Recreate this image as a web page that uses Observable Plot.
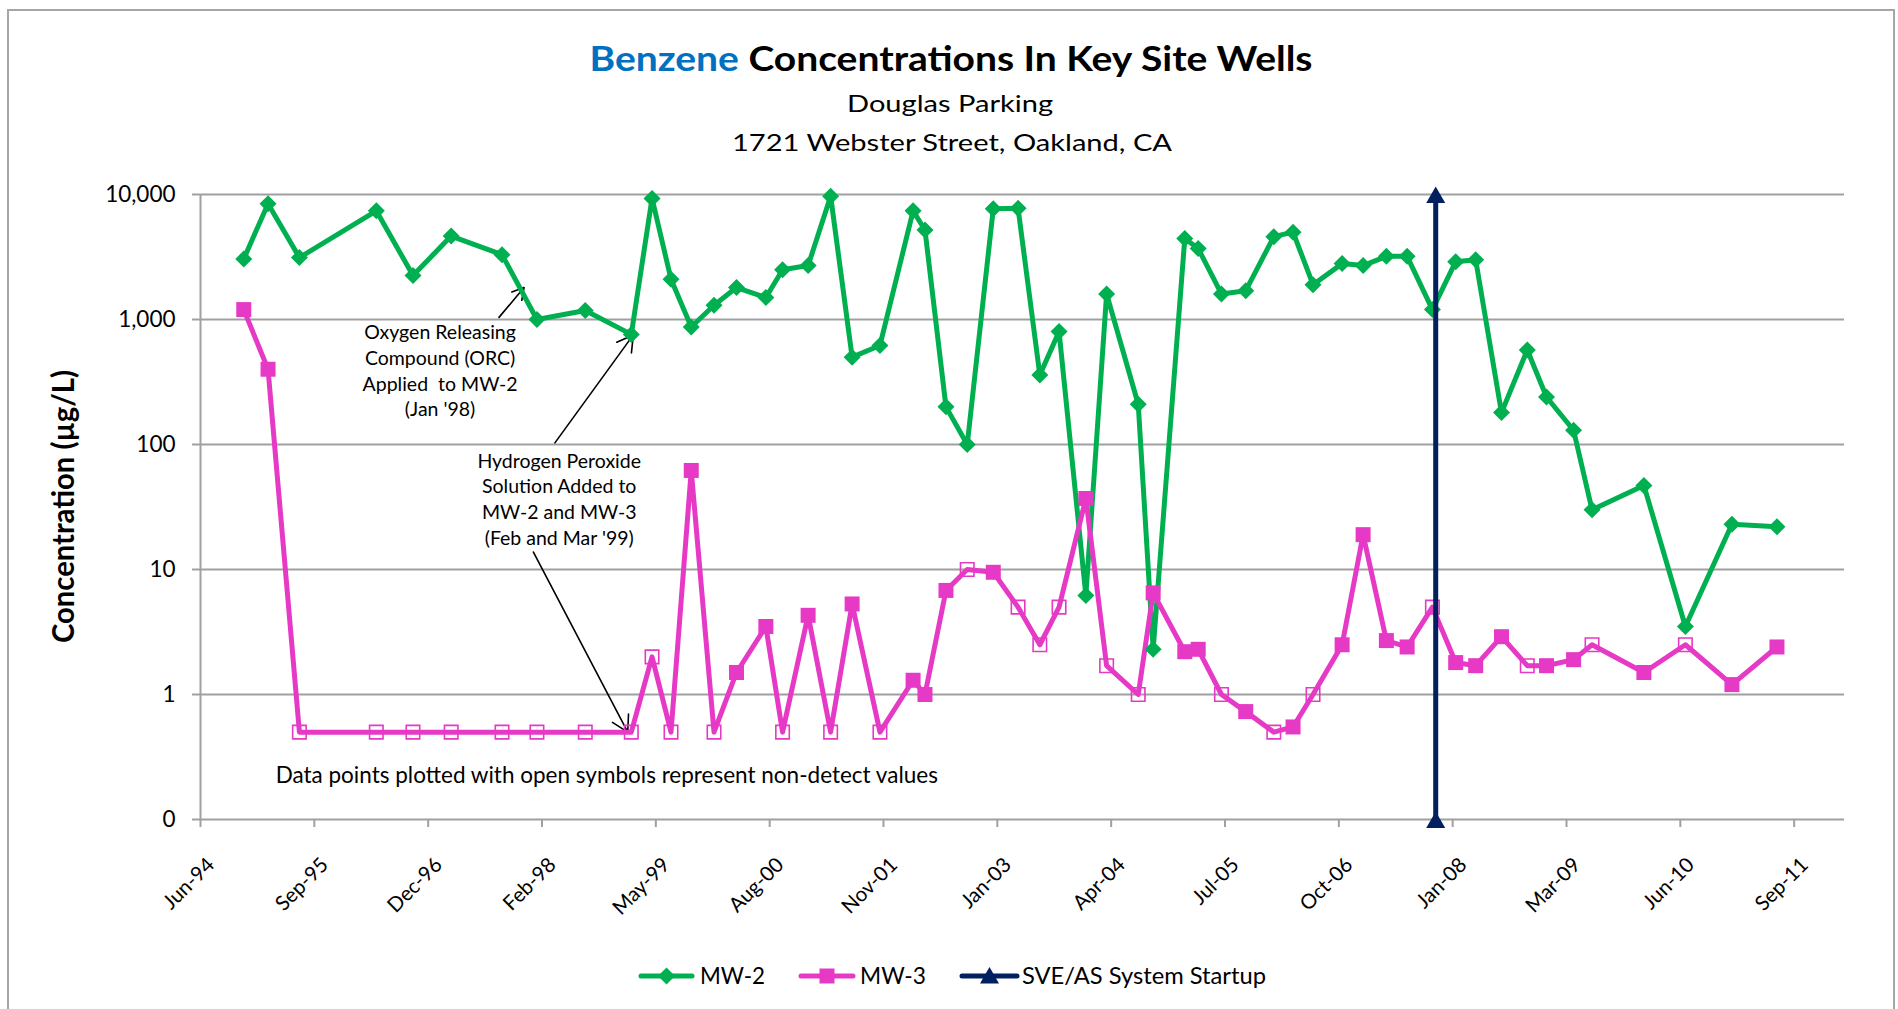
<!DOCTYPE html>
<html>
<head>
<meta charset="utf-8">
<script src="https://cdn.jsdelivr.net/npm/d3@7"></script>
<script src="https://cdn.jsdelivr.net/npm/@observablehq/plot@0.6"></script>
<style>
html,body{margin:0;padding:0;background:#fff;}
body{width:1898px;height:1009px;overflow:hidden;position:relative;font-family:Lato,"Open Sans",sans-serif;}
#frame{position:absolute;left:7px;top:9px;width:1888px;height:1100px;border:2px solid #a6a6a6;box-sizing:border-box;}
#chart{position:absolute;left:0;top:150px;}
#overlay{position:absolute;left:0;top:0;}
</style>
</head>
<body>
<div id="frame"></div>
<div id="chart"></div>
<svg id="overlay" width="1898" height="1009"></svg>
<script>
// ---------- texts ----------
const titleWord = "Benzene";
const titleRest = " Concentrations In Key Site Wells";
const subtitleLines = ["Douglas Parking", "1721 Webster Street, Oakland, CA"];
const yAxisLabel = "Concentration (µg/L)";
const seriesNames = ["MW-2", "MW-3", "SVE/AS System Startup"];

// ---------- data ----------
const sampleDates = [
  "1994-12-04","1995-03-10","1995-07-12","1996-05-11","1996-10-03","1997-03-03","1997-09-20","1998-02-05",
  "1998-08-15","1999-02-13","1999-05-06","1999-07-20","1999-10-08","2000-01-06","2000-04-04","2000-07-29",
  "2000-10-03","2001-01-12","2001-04-11","2001-07-05","2001-10-23","2002-03-03","2002-04-19","2002-07-11",
  "2002-10-03","2003-01-14","2003-04-22","2003-07-17","2003-10-01","2004-01-15","2004-04-06","2004-08-09",
  "2004-10-07","2005-02-09","2005-04-03","2005-07-04","2005-10-08","2006-01-27","2006-04-13","2006-07-01",
  "2006-10-24","2007-01-15","2007-04-17","2007-07-08","2007-10-16","2008-01-16","2008-04-04","2008-07-15",
  "2008-10-25","2009-01-09","2009-04-26","2009-07-08","2010-01-29","2010-07-12","2011-01-12","2011-07-09"
];
const mw2Values = [
  3050, 8450, 3130, 7400, 2250, 4650, 3300, 1000,
  1180, 760, 9300, 2100, 870, 1300, 1800, 1500,
  2500, 2700, 9700, 500, 620, 7400, 5200, 200,
  100, 7700, 7750, 360, 800, 6.2, 1600, 210,
  2.3, 4450, 3700, 1600, 1700, 4600, 5000, 1900,
  2800, 2700, 3200, 3200, 1200, 2900, 3000, 180,
  570, 240, 130, 30, 47, 3.5, 23, 22
];
const mw3Values = [
  1200, 400, 0.5, 0.5, 0.5, 0.5, 0.5, 0.5,
  0.5, 0.5, 2.0, 0.5, 62, 0.5, 1.5, 3.5,
  0.5, 4.3, 0.5, 5.3, 0.5, 1.3, 1.0, 6.8,
  10, 9.5, 5.0, 2.5, 5.0, 37, 1.7, 1.0,
  6.5, 2.2, 2.3, 1.0, 0.73, 0.5, 0.55, 1.0,
  2.5, 19, 2.7, 2.4, 5.0, 1.8, 1.7, 2.9,
  1.7, 1.7, 1.9, 2.5, 1.5, 2.5, 1.2, 2.4
];
// 1 = non-detect (open symbol)
const mw3NonDetect = [
  0,0,1,1,1,1,1,1,
  1,1,1,1,0,1,0,0,
  1,0,1,0,1,0,0,0,
  1,0,1,1,1,0,1,1,
  0,0,0,1,0,1,0,1,
  0,0,0,0,1,0,0,0,
  1,0,0,1,0,1,0,0
];
const sveDates = ["2007-10-29", "2007-10-29"];
const sveValues = [0.1, 10000];

const xDomain = ["1994-06-16", "2012-04-01"];
const xTickDates = ["1994-06-16","1995-09-09","1996-12-02","1998-02-25","1999-05-21","2000-08-13","2001-11-06",
  "2003-01-30","2004-04-24","2005-07-18","2006-10-11","2008-01-04","2009-03-29","2010-06-22","2011-09-15"];
const xTickLabels = ["Jun-94","Sep-95","Dec-96","Feb-98","May-99","Aug-00","Nov-01","Jan-03","Apr-04",
  "Jul-05","Oct-06","Jan-08","Mar-09","Jun-10","Sep-11"];
const yTickValues = [0.1, 1, 10, 100, 1000, 10000];
const yTickLabels = ["0", "1", "10", "100", "1,000", "10,000"];

const noteTexts = [
  "Oxygen Releasing\nCompound (ORC)\nApplied  to MW-2\n(Jan '98)",
  "Hydrogen Peroxide\nSolution Added to\nMW-2 and MW-3\n(Feb and Mar '99)",
  "Data points plotted with open symbols represent non-detect values"
];
const noteDates = ["1997-01-18", "1998-05-04", "1998-11-08"];
const noteValues = [398, 37.3, 0.225];

const arrowStartDates = ["1997-09-08", "1998-04-17", "1998-01-22"];
const arrowStartValues = [1040, 103, 13.8];
const arrowEndDates = ["1997-12-16", "1999-02-21", "1999-01-30"];
const arrowEndValues = [1803, 753, 0.5];

// ---------- styles ----------
const GREEN = "#00B050", PINK = "#E539C6", NAVY = "#002060", BLUE = "#0070C0", GRID = "#a0a0a0";

const parse = d3.utcParse("%Y-%m-%d");
const mw2 = sampleDates.map((d, i) => ({date: parse(d), value: mw2Values[i]}));
const mw3 = sampleDates.map((d, i) => ({date: parse(d), value: mw3Values[i], nd: mw3NonDetect[i] === 1}));
const sve = sveDates.map((d, i) => ({date: parse(d), value: sveValues[i]}));
const notes = noteTexts.map((t, i) => ({text: t, date: parse(noteDates[i]), value: noteValues[i]}));
const arrows = arrowStartDates.map((d, i) => ({
  x1: parse(d), y1: arrowStartValues[i], x2: parse(arrowEndDates[i]), y2: arrowEndValues[i]
}));
const xTicks = xTickDates.map(parse);
const xLabelMap = new Map(xTicks.map((d, i) => [+d, xTickLabels[i]]));
const yLabelMap = new Map(yTickValues.map((v, i) => [v, yTickLabels[i]]));

const plot = Plot.plot({
  width: 1898,
  height: 760,
  marginLeft: 200,
  marginRight: 54,
  marginTop: 44,
  marginBottom: 91,
  style: {fontFamily: "Lato, sans-serif", background: "transparent", overflow: "visible", color: "black"},
  x: {type: "utc", domain: xDomain.map(parse)},
  y: {type: "log", domain: [yTickValues[0], yTickValues[yTickValues.length - 1]]},
  marks: [
    Plot.ruleY(yTickValues, {stroke: GRID, strokeWidth: 2}),
    Plot.ruleX([parse(xDomain[0])], {stroke: GRID, strokeWidth: 2}),
    Plot.axisY(yTickValues, {
      tickFormat: v => yLabelMap.get(v), tickSize: 8, tickPadding: 17, fontSize: 22.5,
      stroke: GRID, strokeWidth: 2, fill: "black", label: null
    }),
    Plot.axisX(xTicks, {tickSize: 8, stroke: GRID, strokeWidth: 2, fill: "none", label: null, tickFormat: d => xLabelMap.get(+d)}),
    Plot.axisX(xTicks, {
      tickSize: 0, tickPadding: 42, tickRotate: -45, textAnchor: "end", lineAnchor: "middle", dx: 10.5,
      fontSize: 20.5, fill: "black", label: null, tickFormat: d => xLabelMap.get(+d)
    }),
    Plot.arrow(arrows, {x1: "x1", y1: "y1", x2: "x2", y2: "y2", stroke: "black", strokeWidth: 1.6, headLength: 17, headAngle: 60}),
    Plot.text(notes.slice(0, 2), {x: "date", y: "value", text: "text", fontSize: 19.5, lineHeight: 1.32, lineAnchor: "middle", textAnchor: "middle", fill: "black"}),
    Plot.text(notes.slice(2), {x: "date", y: "value", text: "text", fontSize: 22.5, lineAnchor: "middle", textAnchor: "middle", fill: "black"}),
    Plot.line(mw2, {x: "date", y: "value", stroke: GREEN, strokeWidth: 5, strokeLinejoin: "round"}),
    Plot.line(mw3, {x: "date", y: "value", stroke: PINK, strokeWidth: 5, strokeLinejoin: "round"}),
    Plot.dot(mw2, {x: "date", y: "value", symbol: "diamond2", r: 7.66, fill: GREEN}),
    Plot.dot(mw3.filter(d => !d.nd), {x: "date", y: "value", symbol: "square", r: 8.46, fill: PINK}),
    Plot.dot(mw3.filter(d => d.nd), {x: "date", y: "value", symbol: "square", r: 7.6, fill: "none", stroke: PINK, strokeWidth: 1.6}),
    Plot.line(sve, {x: "date", y: "value", stroke: NAVY, strokeWidth: 5}),
    Plot.dot(sve, {x: "date", y: "value", symbol: "triangle", r: 7.06, fill: NAVY, dy: 3})
  ]
});
document.getElementById("chart").appendChild(plot);

// ---------- title, axis label, legend ----------
const ov = d3.select("#overlay").style("font-family", "Lato, sans-serif");
const t = ov.append("text").attr("x", 951).attr("y", 71).attr("text-anchor", "middle")
  .attr("font-size", 35).attr("font-weight", "bold").attr("textLength", 723).attr("lengthAdjust", "spacingAndGlyphs");
t.append("tspan").attr("fill", BLUE).text(titleWord);
t.append("tspan").attr("fill", "black").attr("xml:space", "preserve").style("white-space", "pre").text(titleRest);
const subPos = [{x: 950, y: 112, w: 206}, {x: 952, y: 151, w: 440}];
subtitleLines.forEach((s, i) => {
  ov.append("text").attr("x", subPos[i].x).attr("y", subPos[i].y).attr("text-anchor", "middle")
    .attr("font-size", 24).attr("textLength", subPos[i].w).attr("lengthAdjust", "spacingAndGlyphs").text(s);
});
ov.append("text").attr("transform", "translate(74,506.5) rotate(-90)").attr("text-anchor", "middle")
  .attr("font-size", 30).attr("font-weight", "bold").attr("textLength", 273).attr("lengthAdjust", "spacingAndGlyphs")
  .text(yAxisLabel);

const legendItems = [
  {x1: 641, x2: 692, tx: 700, tw: 65, color: GREEN, sym: d3.symbolDiamond2, size: 184},
  {x1: 801, x2: 853, tx: 860, tw: 66, color: PINK, sym: d3.symbolSquare, size: 225},
  {x1: 962, x2: 1017, tx: 1022, tw: 244, color: NAVY, sym: d3.symbolTriangle, size: 156}
];
const ly = 976;
legendItems.forEach((it, i) => {
  ov.append("line").attr("x1", it.x1).attr("x2", it.x2).attr("y1", ly).attr("y2", ly)
    .attr("stroke", it.color).attr("stroke-width", 5).attr("stroke-linecap", "round");
  ov.append("path").attr("d", d3.symbol(it.sym, it.size)())
    .attr("transform", `translate(${(it.x1 + it.x2) / 2},${ly + (i === 2 ? 2 : 0)})`).attr("fill", it.color);
  ov.append("text").attr("x", it.tx).attr("y", 983.5).attr("font-size", 23)
    .attr("textLength", it.tw).attr("lengthAdjust", "spacingAndGlyphs").text(seriesNames[i]);
});
</script>
</body>
</html>
